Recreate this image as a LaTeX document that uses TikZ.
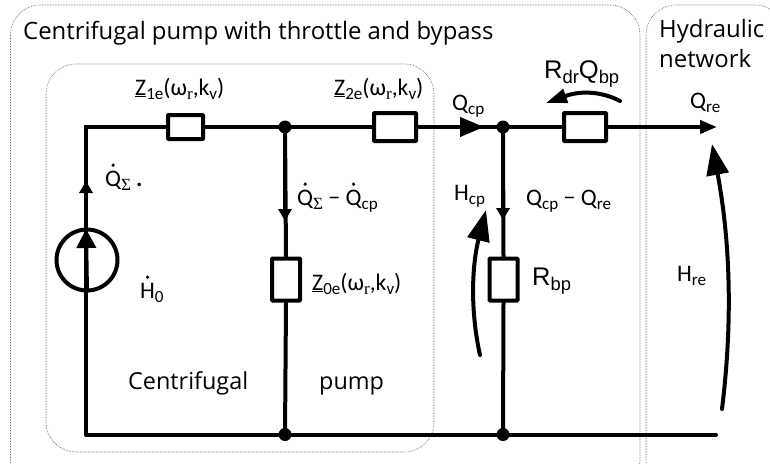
\documentclass[tikz,border=0pt]{standalone}
\usepackage{fontspec}
\usetikzlibrary{arrows.meta,calc}
\setmainfont{Carlito}
\newfontfamily\titlefont{Open Sans}
\newfontfamily\arialfont{Liberation Sans}
\newfontfamily\serifsym{Liberation Serif}
\newcommand{\sbs}[1]{\raisebox{-0.2em}{\fontsize{0.72em}{0.72em}\selectfont #1}}
\newcommand{\wrk}{\sbs{\serifsym r},k\sbs{v}}
\newcommand{\dotQ}{\setbox0=\hbox{Q}\rlap{\hspace{0.5\wd0}\hspace{-1.8pt}\raisebox{0.88em}{\tikz[baseline]\fill (0,0) circle (1.8pt);}}Q}
\newcommand{\dotH}{\setbox0=\hbox{H}\rlap{\hspace{0.5\wd0}\hspace{-1.8pt}\raisebox{0.88em}{\tikz[baseline]\fill (0,0) circle (1.8pt);}}H}
\tikzset{
 frame/.style={draw=black!70,line width=0.6pt,densely dotted,rounded corners=30pt},
 wire/.style={draw=black,line width=4pt,line cap=round},
 imp/.style={draw=black,fill=white,line width=4pt,rectangle,inner sep=0pt,rounded corners=0.6pt},
 jun/.style={circle,fill=black,draw=none,minimum size=13pt,inner sep=0pt},
 lab/.style={anchor=base west,inner sep=0pt,font=\fontsize{23.7}{23.7}\selectfont},
 big/.style={anchor=base west,inner sep=0pt,font=\arialfont\fontsize{25.5}{25.5}\selectfont},
 ttl/.style={anchor=base west,inner sep=0pt,font=\titlefont\fontsize{23.9}{23.9}\selectfont},
 captxt/.style={anchor=base west,inner sep=0pt,font=\titlefont\fontsize{23.4}{23.4}\selectfont},
 tipa/.style={-{Triangle[length=#1,width=13pt]}},
 sweep/.style={draw=black,line width=4pt,line cap=round,-{Triangle[length=31pt,width=22pt]}},
}
\begin{document}
\begin{tikzpicture}[x=1pt,y=-1pt]
\useasboundingbox (0,0) rectangle (770,463);
\fill[white] (0,0) rectangle (770,463);
\begin{scope}
\clip (0,0) rectangle (770,463);
\draw[frame] (10.5,5) rectangle (640,490);
\draw[frame] (646,5) rectangle (785,490);
\draw[frame] (46,64) rectangle (434,452);
\end{scope}

% corners and free ends
\coordinate (tl) at (86,127);
\coordinate (bl) at (86,434.5);
\coordinate (tr) at (717,127);
\coordinate (br) at (716,434.5);
\coordinate (arrS) at (86,181);
\coordinate (arrM) at (285,221);
\coordinate (arrC) at (484,127);
\coordinate (arrB) at (503,220);
\coordinate (srcTip) at (86,229);

% nodes
\node[jun] (j1) at (285,127) {};
\node[jun] (j2) at (503,127) {};
\node[jun] (j3) at (285,434.5) {};
\node[jun] (j4) at (503,434.5) {};
\node[circle,draw=black,line width=4pt,minimum size=61pt,inner sep=0pt] (src) at (87,260) {};
\node[imp,minimum width=35pt,minimum height=24pt] (z1) at (185.5,127) {};
\node[imp,minimum width=42pt,minimum height=28pt] (z2) at (395,127) {};
\node[imp,minimum width=42pt,minimum height=28pt] (rd) at (585,127) {};
\node[imp,minimum width=28pt,minimum height=42pt] (z0) at (286,279.5) {};
\node[imp,minimum width=28pt,minimum height=42pt] (rb) at (503.5,279.5) {};

% wires
\draw[wire] (bl) -- (tl) -- (z1.west);
\draw[wire] (z1.east) -- (j1);
\draw[wire] (j1) -- (z2.west);
\draw[wire] (z2.east) -- (j2);
\draw[wire] (j2) -- (rd.west);
\draw[wire,line cap=butt,tipa=17pt] (rd.east) -- (tr);
\draw[wire] (bl) -- (j3);
\draw[wire] (j3) -- (j4);
\draw[wire] (j4) -- (br);
\draw[wire] (j1) -- (z0.north);
\draw[wire] (z0.south) -- (j3);
\draw[wire] (j2) -- (rb.north);
\draw[wire] (rb.south) -- (j4);
% inline arrowheads
\draw[wire,line cap=butt,tipa=12pt] (bl) -- (arrS);
\draw[wire,line cap=butt,tipa=12pt] (j1) -- (arrM);
\draw[wire,line cap=butt,-{Triangle[length=24pt,width=19pt]}] (z2.east) -- (arrC);
\draw[wire,line cap=butt,tipa=12pt] (j2) -- (arrB);
\draw[wire,line cap=butt,-{Triangle[length=19pt,width=19pt]}] (src.south) -- (srcTip);

% curved pressure arrows
\coordinate (ra) at (620,101);
\coordinate (rb2) at (546,103);
\draw[draw=black,line width=4pt,line cap=round,-{Triangle[length=21pt,width=14pt]}] (ra) .. controls (603,92) and (582,90) .. (rb2);
\coordinate (ha) at (480,355);
\coordinate (hb) at (486,210);
\draw[sweep] (ha) .. controls (470,310) and (472,265) .. (hb);
\coordinate (ra2) at (722,409);
\coordinate (rb3) at (712,144);
\draw[sweep] (ra2) .. controls (733,320) and (730,240) .. (rb3);

% labels
\node[ttl] (t1) at (23,39) {Centrifugal pump with throttle and bypass};
\node[ttl] (t2) at (659,37) {Hydraulic};
\node[ttl] (t3) at (659,67) {network};
\node[lab] (l1) at (135,95) {\underline{Z}\sbs{1e}(ω\wrk)};
\node[lab] (l2) at (334,95) {\underline{Z}\sbs{2e}(ω\wrk)};
\node[lab] (l3) at (312,290) {\underline{Z}\sbs{0e}(ω\wrk)};
\node[lab] (l4) at (452,110) {Q\sbs{cp}};
\node[lab] (l5) at (690,108) {Q\sbs{re}};
\node[lab] (l6) at (105,186) {\dotQ\sbs{\serifsym Σ}\,\hspace{1pt}\textbf{.}};
\node[lab] (l7) at (297,205) {\dotQ\sbs{\serifsym Σ} − \dotQ\sbs{cp}};
\node[lab] (l8) at (454,200) {H\sbs{cp}};
\node[lab] (l9) at (526,205) {Q\sbs{cp} − Q\sbs{re}};
\node[lab] (l10) at (140,298) {\dotH\sbs{0}};
\node[lab] (l11) at (677,281) {H\sbs{re}};
\node[big] (l12) at (544,78) {R\sbs{dr}Q\sbs{bp}};
\node[big] (l13) at (532,285) {R\sbs{bp}};
\node[captxt] (l14) at (128,389) {Centrifugal};
\node[captxt] (l15) at (319,389) {pump};
\end{tikzpicture}
\end{document}
